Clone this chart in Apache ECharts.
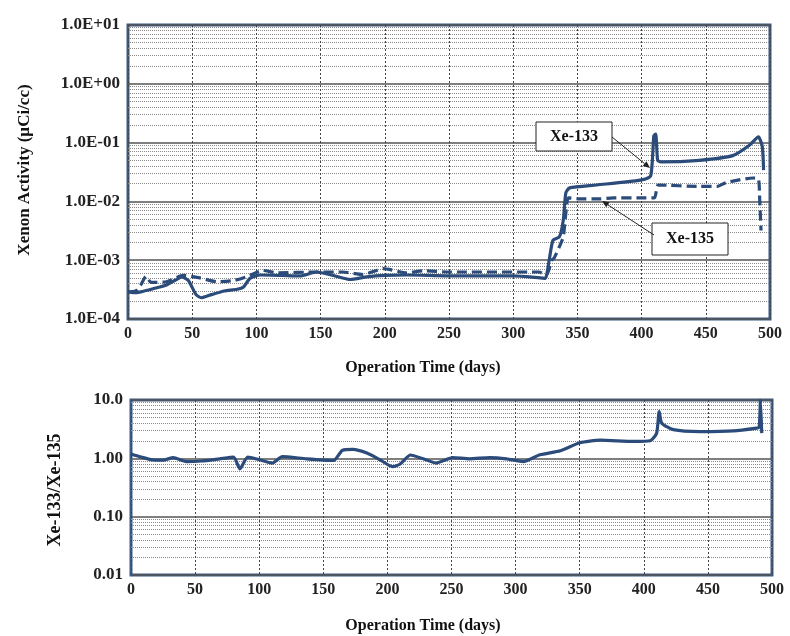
<!DOCTYPE html>
<html><head><meta charset="utf-8">
<script src="https://cdn.jsdelivr.net/npm/echarts@6/dist/echarts.min.js"></script>
<style>html,body{margin:0;padding:0;background:#fff}#c{width:790px;height:636px}</style>
</head><body><div id="c"></div>
<script>
// ---- data ----
const xe133Days = [0,4,10,20,30,37,42,47,53,57,65,75,85,90,95,103,120,134,147,160,173,186,200,217,250,300,321,325,328,331,336,339,341,344,365,399,407,409.5,411,412.5,415,445,471,484,491,494,495];
const xe133Vals = [2.9e-4,2.8e-4,2.9e-4,3.3e-4,3.8e-4,4.6e-4,5.2e-4,4.5e-4,2.6e-4,2.3e-4,2.6e-4,3.0e-4,3.2e-4,3.5e-4,4.9e-4,5.6e-4,5.5e-4,5.4e-4,6.3e-4,5.5e-4,4.7e-4,5.2e-4,5.5e-4,5.6e-4,5.4e-4,5.4e-4,5.0e-4,4.9e-4,1.0e-3,2.2e-3,2.5e-3,4.8e-3,1.4e-2,1.7e-2,1.9e-2,2.3e-2,2.7e-2,1.3e-1,1.4e-1,5.0e-2,4.7e-2,5.0e-2,6.0e-2,9.0e-2,1.25e-1,8.5e-2,3.4e-2];
const xe135Days = [0,6,10,14,18,30,43,56,69,82,92,105,116,147,167,183,199,217,230,250,320,326,330,332,336,339,341,343,352,367,378,399,410,413,445,459,466,487,491,492,493];
const xe135Vals = [2.9e-4,3.0e-4,3.8e-4,5.3e-4,4.2e-4,4.3e-4,5.5e-4,5.0e-4,4.3e-4,4.5e-4,5.2e-4,6.7e-4,6.1e-4,6.3e-4,6.3e-4,5.7e-4,7.2e-4,6.1e-4,6.6e-4,6.3e-4,6.3e-4,5.6e-4,1.0e-3,1.1e-3,1.7e-3,2.5e-3,6.3e-3,1.15e-2,1.1e-2,1.1e-2,1.15e-2,1.15e-2,1.15e-2,1.9e-2,1.8e-2,1.8e-2,2.1e-2,2.5e-2,2.4e-2,1.05e-2,3.2e-3];
const ratioDays = [0,8,17,25,33,43,55,69,80,85,91,100,110,118,137,158,165,173,184,194,204,210,218,228,238,251,264,280,293,306,319,335,350,366,392,405,410,412,414,423,444,470,488,490,491,492];
const ratioVals = [1.19,1.05,0.94,0.93,1.03,0.88,0.9,0.98,1.05,0.66,1.05,0.95,0.83,1.07,0.98,0.92,1.38,1.42,1.23,0.95,0.72,0.8,1.14,0.98,0.83,1.03,0.98,1.03,0.98,0.88,1.15,1.35,1.85,2.05,1.95,2.0,2.7,6.3,4.0,3.1,2.87,2.95,3.3,3.4,10,2.7];
const topYTickLabels = ['1.0E-04','1.0E-03','1.0E-02','1.0E-01','1.0E+00','1.0E+01'];
const bottomYTickLabels = ['0.01','0.10','1.00','10.0'];
const xAxisTitle = 'Operation Time (days)';
const topYTitle = 'Xenon Activity (µCi/cc)';
const bottomYTitle = 'Xe-133/Xe-135';

// ---- styling ----
const FONT = '"Liberation Serif","Times New Roman",serif';
const LINE = '#2b4b7b';
const BORDER = '#3b5b85';
const pair = (xs, ys) => xs.map((x, i) => [x, ys[i]]);

function xAxisCfg(gi) {
  return {
    type: 'value', gridIndex: gi, min: 0, max: 500, interval: 50,
    axisLine: {show: false}, axisTick: {show: false},
    axisLabel: {margin: 7, fontFamily: FONT, fontWeight: 'bold', fontSize: 16, color: '#222'},
    splitLine: {show: true, lineStyle: {color: '#444', type: [2, 2], width: 1}}
  };
}
function yAxisCfg(gi, min, max, labels, off) {
  return {
    type: 'log', logBase: 10, gridIndex: gi, min: min, max: max,
    axisLine: {show: false}, axisTick: {show: false},
    axisLabel: {margin: 8, fontFamily: FONT, fontWeight: 'bold', fontSize: 17, color: '#222',
      formatter: v => labels[Math.round(Math.log10(v)) + off]},
    splitLine: {show: true, lineStyle: {color: '#555', width: 1.5}},
    minorTick: {show: false, splitNumber: 9},
    minorSplitLine: {show: true, lineStyle: {color: '#8a8a8a', type: [1, 1], width: 1}}
  };
}

function arrow(x1, y1, x2, y2) {
  const a = Math.atan2(y2 - y1, x2 - x1), L = 7, W = 3;
  const bx = x2 - L * Math.cos(a), by = y2 - L * Math.sin(a);
  const px = -Math.sin(a) * W, py = Math.cos(a) * W;
  return [
    {type: 'line', shape: {x1: x1, y1: y1, x2: bx, y2: by}, style: {stroke: '#222', lineWidth: 1}, z: 100},
    {type: 'polygon', shape: {points: [[x2, y2], [bx + px, by + py], [bx - px, by - py]]}, style: {fill: '#222'}, z: 100}
  ];
}
function box(x, y, w, h, text) {
  return [
    {type: 'rect', shape: {x: x, y: y, width: w, height: h}, style: {fill: '#fff', stroke: '#222', lineWidth: 1}, z: 100},
    {type: 'text', x: x + w / 2, y: y + h / 2, style: {text: text, fill: '#111', font: 'bold 16px ' + FONT, align: 'center', verticalAlign: 'middle'}, z: 101}
  ];
}

const chart = echarts.init(document.getElementById('c'), null, {renderer: 'canvas'});
chart.setOption({
  animation: false,
  backgroundColor: '#fff',
  grid: [
    {left: 128, top: 25, width: 642, height: 294, show: true, borderColor: BORDER, borderWidth: 3, backgroundColor: '#fff'},
    {left: 131, top: 400, width: 641, height: 175, show: true, borderColor: BORDER, borderWidth: 3, backgroundColor: '#fff'}
  ],
  xAxis: [xAxisCfg(0), xAxisCfg(1)],
  yAxis: [yAxisCfg(0, 1e-4, 10, topYTickLabels, 4), yAxisCfg(1, 0.01, 10, bottomYTickLabels, 2)],
  series: [
    {name: 'Xe-133', type: 'line', xAxisIndex: 0, yAxisIndex: 0, data: pair(xe133Days, xe133Vals), showSymbol: false, smooth: 0.2,
     lineStyle: {color: LINE, width: 3.2}, z: 10},
    {name: 'Xe-135', type: 'line', xAxisIndex: 0, yAxisIndex: 0, data: pair(xe135Days, xe135Vals), showSymbol: false, smooth: 0.2,
     lineStyle: {color: LINE, width: 3.2, type: [10, 5]}, z: 9},
    {name: 'Ratio', type: 'line', xAxisIndex: 1, yAxisIndex: 1, data: pair(ratioDays, ratioVals), showSymbol: false, smooth: 0.2,
     lineStyle: {color: LINE, width: 3.2}, z: 10}
  ],
  graphic: [].concat(
    box(536, 122, 76, 29, 'Xe-133'),
    arrow(612, 137, 650, 168),
    box(652, 223, 76, 32, 'Xe-135'),
    arrow(654, 235, 602, 201),
    [
      {type: 'text', x: 423, y: 368, style: {text: xAxisTitle, fill: '#111', font: 'bold 16px ' + FONT, align: 'center', verticalAlign: 'middle'}},
      {type: 'text', x: 423, y: 626, style: {text: xAxisTitle, fill: '#111', font: 'bold 16px ' + FONT, align: 'center', verticalAlign: 'middle'}},
      {type: 'text', x: 25, y: 170, rotation: Math.PI / 2, style: {text: topYTitle, fill: '#111', font: 'bold 17px ' + FONT, align: 'center', verticalAlign: 'middle'}},
      {type: 'text', x: 55, y: 490, rotation: Math.PI / 2, style: {text: bottomYTitle, fill: '#111', font: 'bold 18px ' + FONT, align: 'center', verticalAlign: 'middle'}}
    ]
  )
});
</script>
</body></html>
